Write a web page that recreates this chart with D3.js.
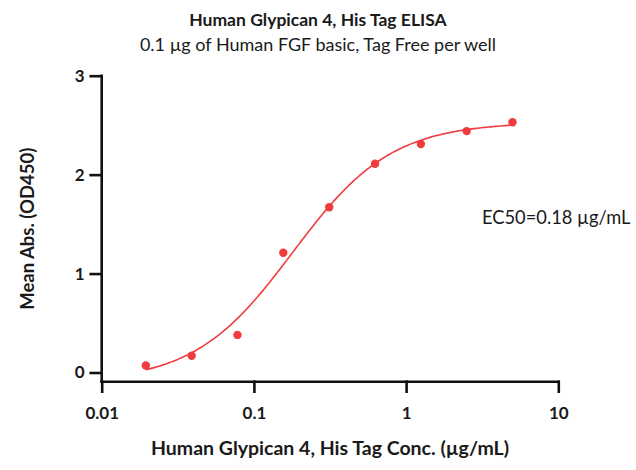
<!DOCTYPE html>
<html>
<head>
<meta charset="utf-8">
<script src="https://cdn.jsdelivr.net/npm/d3@7"></script>
<style>
  body { margin: 0; background: #fff; }
  text { font-family: Lato, "Open Sans", sans-serif; fill: #1a1a1a; }
</style>
</head>
<body>
<svg id="chart"></svg>
<script>
// concentrations (ug/mL) and mean absorbance
var conc = [0.0195, 0.039, 0.078, 0.156, 0.3125, 0.625, 1.25, 2.5, 5];
var od450 = [0.07, 0.17, 0.38, 1.21, 1.67, 2.11, 2.31, 2.44, 2.53];

// 4PL fit parameters for the drawn curve
var fitBottom = -0.1, fitTop = 2.53, fitEC50 = 0.18, fitHill = 1.34;

var xTicks = [0.01, 0.1, 1, 10];
var yTicks = [0, 1, 2, 3];

var svgWidth = 636, svgHeight = 470;
var red = "#f03b3f";

var svg = d3.select("#chart")
    .attr("width", svgWidth)
    .attr("height", svgHeight);

var x = d3.scaleLog()
    .domain([0.01, 10])
    .range([101.7, 558.3]);

var y = d3.scaleLinear()
    .domain([0, 3])
    .range([372.5, 75.7]);

var xAxisY = 381.7; // x axis sits a little below y = 0

// titles
svg.append("text")
    .attr("x", 318).attr("y", 26)
    .attr("text-anchor", "middle")
    .style("font-weight", "bold")
    .style("font-size", "17.5px")
    .text("Human Glypican 4, His Tag ELISA");

svg.append("text")
    .attr("x", 318).attr("y", 51)
    .attr("text-anchor", "middle")
    .style("font-size", "18px")
    .text("0.1 \u00b5g of Human FGF basic, Tag Free per well");

// x axis
var xAxis = svg.append("g")
    .attr("transform", "translate(0," + xAxisY + ")")
    .call(d3.axisBottom(x)
        .tickValues(xTicks)
        .tickSize(10)
        .tickPadding(15)
        .tickFormat(function(d) { return d3.format("~g")(d); }));

// y axis
var yAxis = svg.append("g")
    .attr("transform", "translate(" + x(0.01) + ",0)")
    .call(d3.axisLeft(y)
        .tickValues(yTicks)
        .tickSize(11)
        .tickPadding(6)
        .tickFormat(d3.format("d")));

// the y axis line runs down to meet the x axis
yAxis.select(".domain")
    .attr("d", "M0," + y(3) + "V" + xAxisY);
xAxis.select(".domain")
    .attr("d", "M" + x(0.01) + ",0H" + x(10));

[xAxis, yAxis].forEach(function(a) {
  a.selectAll(".domain, .tick line")
      .attr("stroke", "#111")
      .attr("stroke-width", 2.6)
      .attr("stroke-linecap", "square");
  a.selectAll(".tick text")
      .attr("fill", "#1a1a1a")
      .style("font-family", "Lato, 'Open Sans', sans-serif")
      .style("font-weight", "bold")
      .style("font-size", "17px");
});

// axis titles
svg.append("text")
    .attr("transform", "translate(34," + (y(3) + xAxisY) / 2 + ") rotate(-90)")
    .attr("text-anchor", "middle")
    .style("font-weight", "bold")
    .style("font-size", "18.5px")
    .text("Mean Abs. (OD450)");

svg.append("text")
    .attr("x", (x(0.01) + x(10)) / 2).attr("y", 455)
    .attr("text-anchor", "middle")
    .style("font-weight", "bold")
    .style("font-size", "19.5px")
    .text("Human Glypican 4, His Tag Conc. (\u00b5g/mL)");

// fitted curve
var fit = function(c) {
  return fitBottom + (fitTop - fitBottom) / (1 + Math.pow(fitEC50 / c, fitHill));
};
var curveX = d3.range(0, 201).map(function(i) {
  return Math.pow(10, Math.log10(conc[0]) + i / 200 * (Math.log10(conc[conc.length - 1]) - Math.log10(conc[0])));
});

var line = d3.line()
    .x(function(d) { return x(d); })
    .y(function(d) { return y(fit(d)); });

svg.append("path")
    .datum(curveX)
    .attr("fill", "none")
    .attr("stroke", red)
    .attr("stroke-width", 1.6)
    .attr("d", line);

// points
svg.selectAll(".dot")
    .data(conc)
    .enter().append("circle")
    .attr("class", "dot")
    .attr("cx", function(d) { return x(d); })
    .attr("cy", function(d, i) { return y(od450[i]); })
    .attr("r", 4.2)
    .attr("fill", red);

svg.append("text")
    .attr("x", 482).attr("y", 224)
    .style("font-size", "18.3px")
    .text("EC50=0.18 \u00b5g/mL");
</script>
</body>
</html>
